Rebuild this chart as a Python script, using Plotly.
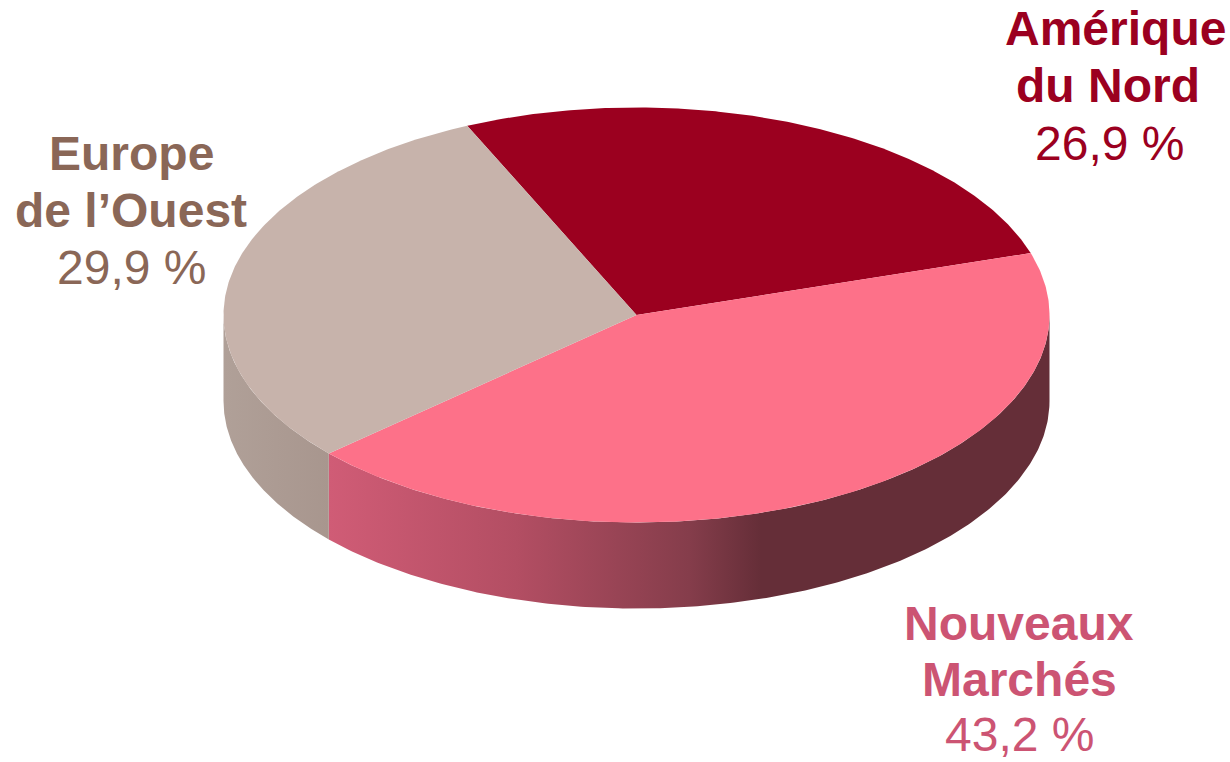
import numpy as np
import plotly.graph_objects as go

# --- data ---
categories = ["Amérique du Nord", "Nouveaux Marchés", "Europe de l’Ouest"]
shares = [26.9, 43.2, 29.9]
share_labels = ["26,9 %", "43,2 %", "29,9 %"]
name_lines = [["Amérique", "du Nord"], ["Nouveaux", "Marchés"], ["Europe", "de l’Ouest"]]

# --- style ---
top_colors = ["#9b001f", "#fd7189", "#c7b3ab"]
text_colors = ["#9b0020", "#cc5473", "#8a6757"]
side_scales = [
    None,
    [[0, "#d05c76"], [0.26, "#b34e63"], [0.5, "#853d4b"], [0.6, "#652e38"], [1, "#652e38"]],
    [[0, "#b0a098"], [1, "#a8968e"]],
]
CX, CY, RX, RY, DEPTH = 636.5, 315, 413, 207.5, 86
START = -24.2
FONT = "Liberation Sans, Arial, sans-serif"
FS = 48
# centre x and the y centres of the three lines of each label
label_pos = [(1115, [28, 85, 143]), (1019, [623, 679, 734]), (131, [153, 210, 267])]
line_dx = [[0, -7, -6], [0, 0, 0], [0, 0, 0]]

def rim(a0, a1, n=240):
    t = np.radians(np.linspace(a0, a1, n))
    return CX + RX * np.sin(t), CY - RY * np.cos(t)

fig = go.Figure()
edges = START + np.concatenate([[0], np.cumsum(shares)]) * 3.6

# side walls (only the front half of the disc, angles 90..270)
for i in range(len(shares)):
    a0, a1 = max(edges[i], 90), min(edges[i + 1], 270)
    if a1 <= a0 or side_scales[i] is None:
        continue
    x, y = rim(a0, a1)
    px = np.concatenate([x, x[::-1]])
    py = np.concatenate([y, (y + DEPTH)[::-1]])
    fig.add_trace(go.Scatter(
        x=px, y=py, mode="lines", line=dict(width=0), fill="toself",
        fillgradient=dict(type="horizontal", colorscale=side_scales[i]),
        hoverinfo="skip", showlegend=False))

# top faces
for i, cat in enumerate(categories):
    x, y = rim(edges[i], edges[i + 1])
    fig.add_trace(go.Scatter(
        x=np.concatenate([[CX], x, [CX]]), y=np.concatenate([[CY], y, [CY]]),
        mode="lines", line=dict(width=0), fill="toself", fillcolor=top_colors[i],
        name=cat, hoverinfo="name", showlegend=False))

# labels
for i in range(len(categories)):
    cx, ys = label_pos[i]
    rows = [f"<b>{name_lines[i][0]}</b>", f"<b>{name_lines[i][1]}</b>", share_labels[i]]
    for j, row in enumerate(rows):
        fig.add_annotation(x=cx + line_dx[i][j], y=ys[j], text=row, showarrow=False,
                           xanchor="center", yanchor="middle",
                           font=dict(family=FONT, size=FS, color=text_colors[i]))

fig.update_layout(
    width=1230, height=762, margin=dict(l=0, r=0, t=0, b=0),
    paper_bgcolor="white", plot_bgcolor="white", showlegend=False,
    xaxis=dict(range=[0, 1230], visible=False, fixedrange=True),
    yaxis=dict(range=[762, 0], visible=False, fixedrange=True),
)
fig.write_html("out.html", config=dict(displayModeBar=False),
               post_script="document.body.style.margin='0';document.documentElement.style.overflow='hidden';")
